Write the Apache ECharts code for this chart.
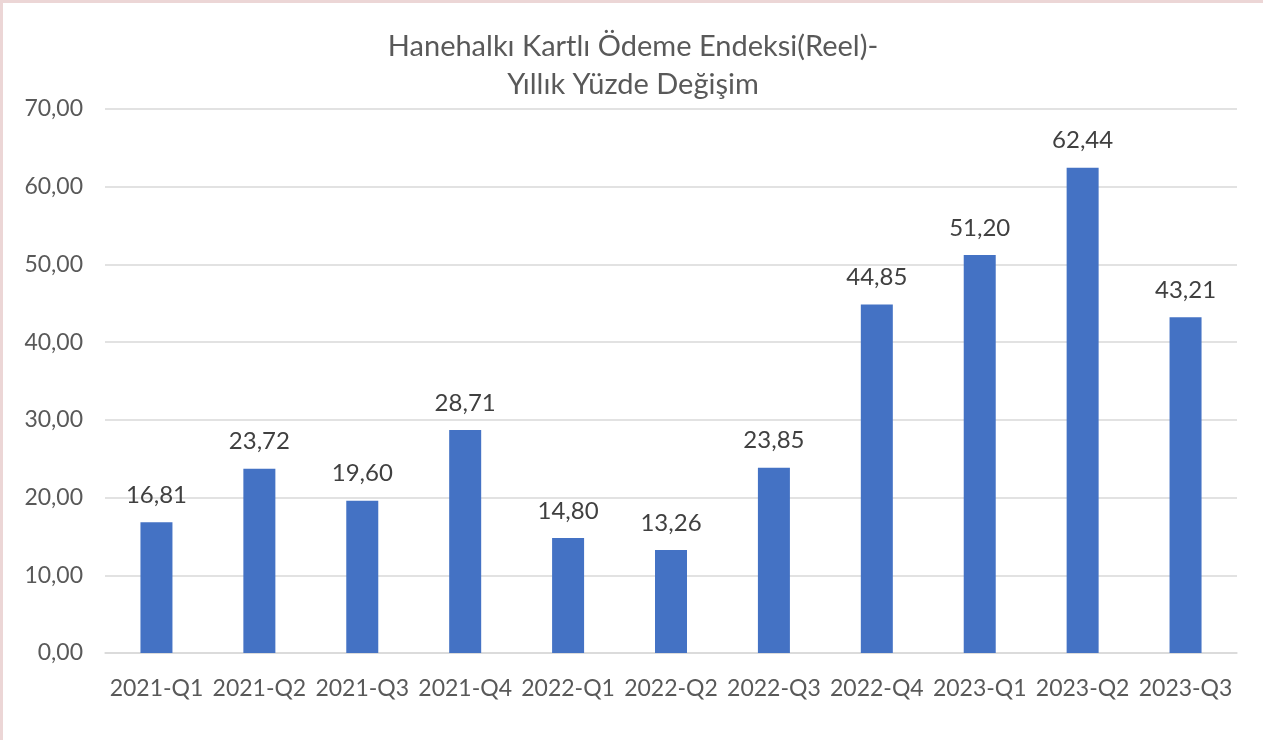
<!DOCTYPE html>
<html><head><meta charset="utf-8">
<script src="https://cdn.jsdelivr.net/npm/echarts@6/dist/echarts.min.js"></script>
<style>
html,body{margin:0;padding:0;background:#fff;}
#c{width:1263px;height:740px;box-sizing:border-box;border-left:3px solid #ecd6d6;border-top:3px solid #ecd6d6;}
</style></head>
<body><div id="c"></div>
<script>
const categories = ["2021-Q1","2021-Q2","2021-Q3","2021-Q4","2022-Q1","2022-Q2","2022-Q3","2022-Q4","2023-Q1","2023-Q2","2023-Q3"];
const values = [16.81,23.72,19.60,28.71,14.80,13.26,23.85,44.85,51.20,62.44,43.21];
const titleLines = ["Hanehalkı Kartlı Ödeme Endeksi(Reel)-","Yıllık Yüzde Değişim"];
const FONT = "Lato";
const chart = echarts.init(document.getElementById('c'), null, {renderer:'canvas'});
chart.setOption({
  animation:false,
  title:{text:titleLines.join('\n'),left:'center',top:20,
    textStyle:{fontFamily:FONT,fontSize:29,fontWeight:'normal',color:'#595959',lineHeight:38}},
  grid:{left:102,right:26,top:106,bottom:87,containLabel:false},
  xAxis:{type:'category',data:categories,
    axisLine:{lineStyle:{color:'#d9d9d9',width:1.5}},axisTick:{show:false},
    axisLabel:{fontFamily:FONT,fontSize:23,color:'#595959',margin:24,interval:0}},
  yAxis:{type:'value',min:0,max:70,interval:10,
    axisLine:{show:false},axisTick:{show:false},
    splitLine:{lineStyle:{color:'#d9d9d9',width:1.5}},
    axisLabel:{fontFamily:FONT,fontSize:23,color:'#595959',margin:22,
      formatter:v=>v.toFixed(2).replace('.',',')}},
  series:[{type:'bar',data:values,barWidth:32,
    itemStyle:{color:'#4472c4'},
    label:{show:true,position:'top',distance:15,fontFamily:FONT,fontSize:24,color:'#404040',
      formatter:p=>p.value.toFixed(2).replace('.',',')}}]
});
</script></body></html>
